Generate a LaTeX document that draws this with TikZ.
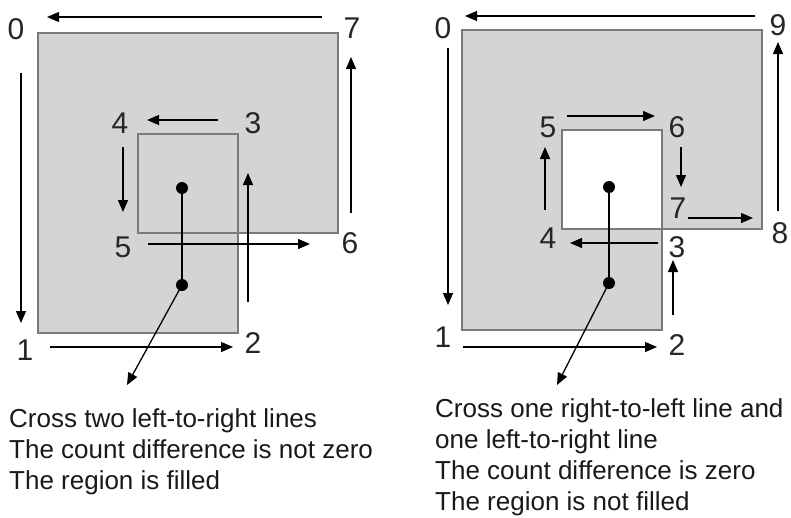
\documentclass[tikz,border=0pt]{standalone}
\usepackage{fontspec}
\setmainfont{Liberation Sans}
\usetikzlibrary{arrows.meta}

\begin{document}
\begin{tikzpicture}[x=1pt,y=-1pt]
  \tikzset{
    region/.style={draw=black!52, line width=2pt, fill=black!17},
    flow/.style={-{Triangle[length=12pt,width=10pt]}, line width=1.3pt},
    vertex/.style={font=\fontsize{30}{30}\selectfont, text=black!85, inner sep=0pt},
    dot/.style={circle, fill=black, inner sep=0pt, minimum size=12pt},
    note/.style={font=\fontsize{26}{31}\selectfont, text=black!90, align=left, anchor=north west, inner sep=0pt}
  }
  \useasboundingbox (0,0) rectangle (791,517);

  % left: both loops wind the same way
  \path[region] (38,33) -- (38,333) -- (238,333) -- (238,134) -- (138,134)
    -- (138,233) -- (338,233) -- (338,33) -- cycle;

  \node[vertex] (l0) at (16,29) {0};
  \node[vertex] (l1) at (25,350) {1};
  \node[vertex] (l2) at (253,343) {2};
  \node[vertex] (l3) at (253,123) {3};
  \node[vertex] (l4) at (120,123) {4};
  \node[vertex] (l5) at (123,247) {5};
  \node[vertex] (l6) at (350,243) {6};
  \node[vertex] (l7) at (352,28) {7};

  \draw[flow] (322,17) -- (47,17);
  \draw[flow] (21,73) -- (21,323);
  \draw[flow] (50,347) -- (233,347);
  \draw[flow] (248,302) -- (248,173);
  \draw[flow] (218,120) -- (147,120);
  \draw[flow] (123,147) -- (123,212);
  \draw[flow] (148,244) -- (310,244);
  \draw[flow] (351,213) -- (351,57);

  \node[dot] (insideL) at (182,188) {};
  \node[dot] (outsideL) at (182,285) {};
  \coordinate (tipL) at (127,385);
  \draw[line width=1.3pt] (insideL.center) -- (outsideL.center);
  \draw[flow] (outsideL.center) -- (tipL);

  \node[note] (noteL) at (9,408) {Cross two left-to-right lines\\The count difference is not zero\\The region is filled};

  % right: inner loop winds the other way
  \path[region] (462,30) -- (462,330) -- (662,330) -- (662,229) -- (562,229)
    -- (562,130) -- (662,130) -- (662,229) -- (762,229) -- (762,30) -- cycle;

  \node[vertex] (r0) at (443,28) {0};
  \node[vertex] (r1) at (443,337) {1};
  \node[vertex] (r2) at (677,345) {2};
  \node[vertex] (r3) at (677,247) {3};
  \node[vertex] (r4) at (548,238) {4};
  \node[vertex] (r5) at (548,127) {5};
  \node[vertex] (r6) at (677,127) {6};
  \node[vertex] (r7) at (678,208) {7};
  \node[vertex] (r8) at (780,233) {8};
  \node[vertex] (r9) at (778,25) {9};

  \draw[flow] (755,16) -- (465,16);
  \draw[flow] (448,48) -- (448,305);
  \draw[flow] (463,347) -- (657,347);
  \draw[flow] (673,315) -- (673,260);
  \draw[flow] (658,243) -- (570,243);
  \draw[flow] (545,210) -- (545,147);
  \draw[flow] (567,116) -- (655,116);
  \draw[flow] (681,147) -- (681,187);
  \draw[flow] (688,218) -- (753,218);
  \draw[flow] (778,211) -- (778,42);

  \node[dot] (insideR) at (609,187) {};
  \node[dot] (outsideR) at (609,283) {};
  \coordinate (tipR) at (557,385);
  \draw[line width=1.3pt] (insideR.center) -- (outsideR.center);
  \draw[flow] (outsideR.center) -- (tipR);

  \node[note] (noteR) at (435,398) {Cross one right-to-left line and\\one left-to-right line\\The count difference is zero\\The region is not filled};
\end{tikzpicture}
\end{document}
